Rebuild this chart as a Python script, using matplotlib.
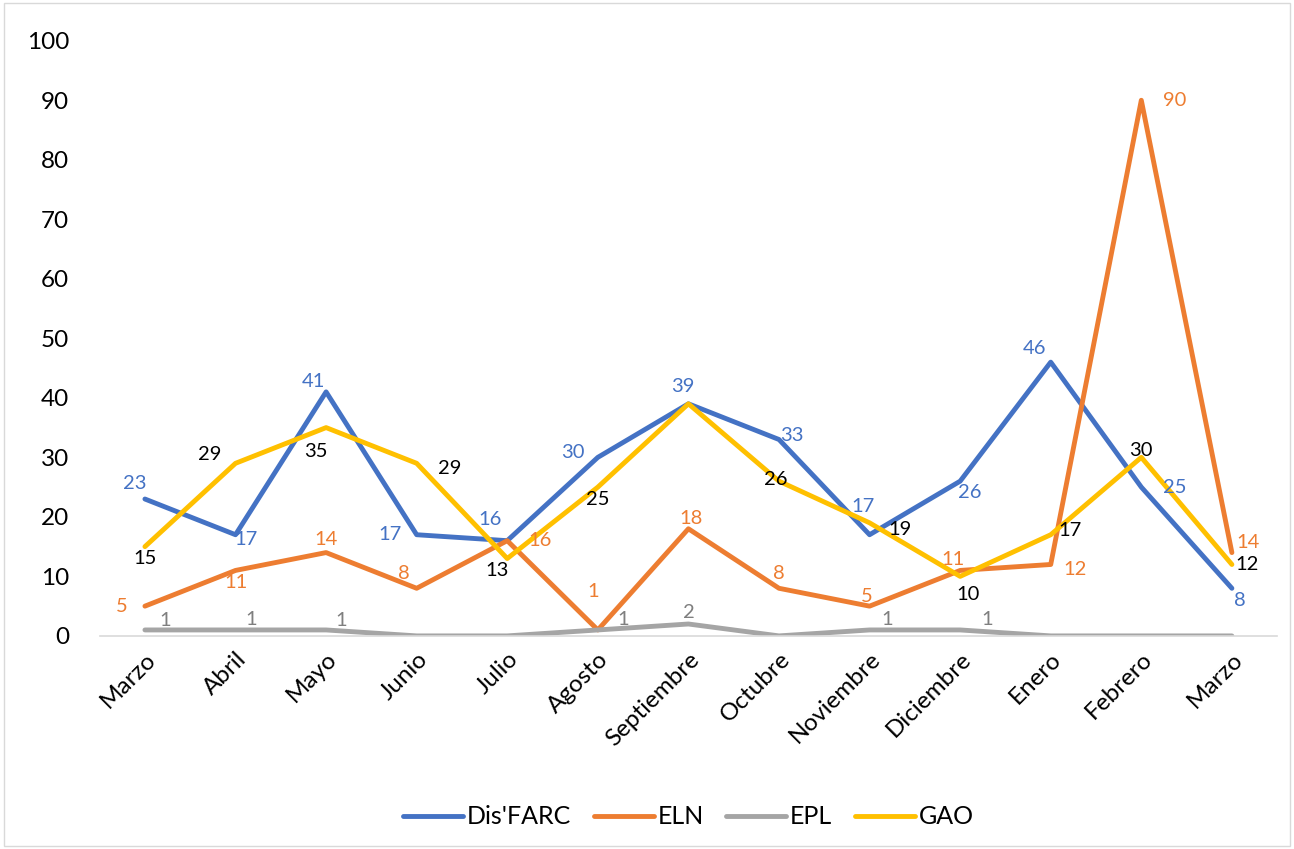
import matplotlib.pyplot as plt
import numpy as np

plt.rcParams['font.family'] = ['Lato', 'DejaVu Sans']

meses = ['Marzo', 'Abril', 'Mayo', 'Junio', 'Julio', 'Agosto', 'Septiembre',
         'Octubre', 'Noviembre', 'Diciembre', 'Enero', 'Febrero', 'Marzo']
farc = [23, 17, 41, 17, 16, 30, 39, 33, 17, 26, 46, 25, 8]
eln = [5, 11, 14, 8, 16, 1, 18, 8, 5, 11, 12, 90, 14]
epl = [1, 1, 1, 0, 0, 1, 2, 0, 1, 1, 0, 0, 0]
gao = [15, 29, 35, 29, 13, 25, 39, 26, 19, 10, 17, 30, 12]

# label offsets in pixels (dx, dy), None = no label
off_farc = [(-10, 16), (10, -5), (-13, 10), (-27, 0), (-17, 21), (-25, 5), (-6, 17),
            (13, 4), (-7, 28), (10, -11), (-16, 14), (33, 0), (8, -12)]
off_eln = [(-23, 0), (0, -12), (0, 13), (-13, 15), (33, 0), (-5, 38), (3, 10),
           (0, 15), (-3, 10), (-7, 11), (24, -5), (33, 0), (16, 10)]
off_epl = [(20, 9), (16, 10), (15, 9), None, None, (25, 10), (0, 11),
           None, (18, 10), (27, 10), None, None, None]
off_gao = [(0, -12), (-26, 9), (-10, -24), (33, -5), (-10, -12), (0, -12), None,
           (-3, 2), (30, -7), (8, -18), (19, 4), (0, 7), (15, 0)]

colores = {"Dis'FARC": '#4472C4', 'ELN': '#ED7D31', 'EPL': '#A5A5A5', 'GAO': '#FFC000'}
etiqueta_color = {"Dis'FARC": '#4472C4', 'ELN': '#ED7D31', 'EPL': '#7F7F7F', 'GAO': 'black'}

fig = plt.figure(figsize=(12.94, 8.49), dpi=100)
ax = fig.add_axes([0.077, 0.251, 0.91, 0.701])
x = np.arange(len(meses))

series = [("Dis'FARC", farc, off_farc), ('ELN', eln, off_eln),
          ('EPL', epl, off_epl), ('GAO', gao, off_gao)]
for nombre, vals, offs in series:
    ax.plot(x, vals, color=colores[nombre], lw=3.5, label=nombre,
            solid_capstyle='round', solid_joinstyle='round')

for nombre, vals, offs in series:
    for xi, v, o in zip(x, vals, offs):
        if o is None:
            continue
        ax.annotate(str(v), (xi, v), xytext=o, textcoords='offset pixels',
                    ha='center', va='center', fontsize=14.5,
                    color=etiqueta_color[nombre])

ax.set_xlim(-0.5, len(meses) - 0.5)
ax.set_ylim(0, 100)
ax.set_yticks(np.arange(0, 101, 10))
ax.set_xticks(x)
ax.set_xticklabels(meses, rotation=45, ha='right', rotation_mode='anchor')
ax.tick_params(axis='y', length=0, pad=22, labelsize=17.5)
ax.tick_params(axis='x', length=0, pad=9, labelsize=17.5)
for s in ['top', 'right', 'left']:
    ax.spines[s].set_visible(False)
ax.spines['bottom'].set_color('#D9D9D9')
ax.spines['bottom'].set_linewidth(1.2)

ax.legend(loc='center', bbox_to_anchor=(0.5, -0.304), ncol=4, frameon=False,
          fontsize=18, handlelength=2.4, handletextpad=0.15, columnspacing=0.9)

fig.patches.append(plt.Rectangle((0.003, 0.003), 0.994, 0.994, transform=fig.transFigure,
                                 fill=False, edgecolor='#D9D9D9', lw=1))
fig.savefig('out.png', dpi=100)
